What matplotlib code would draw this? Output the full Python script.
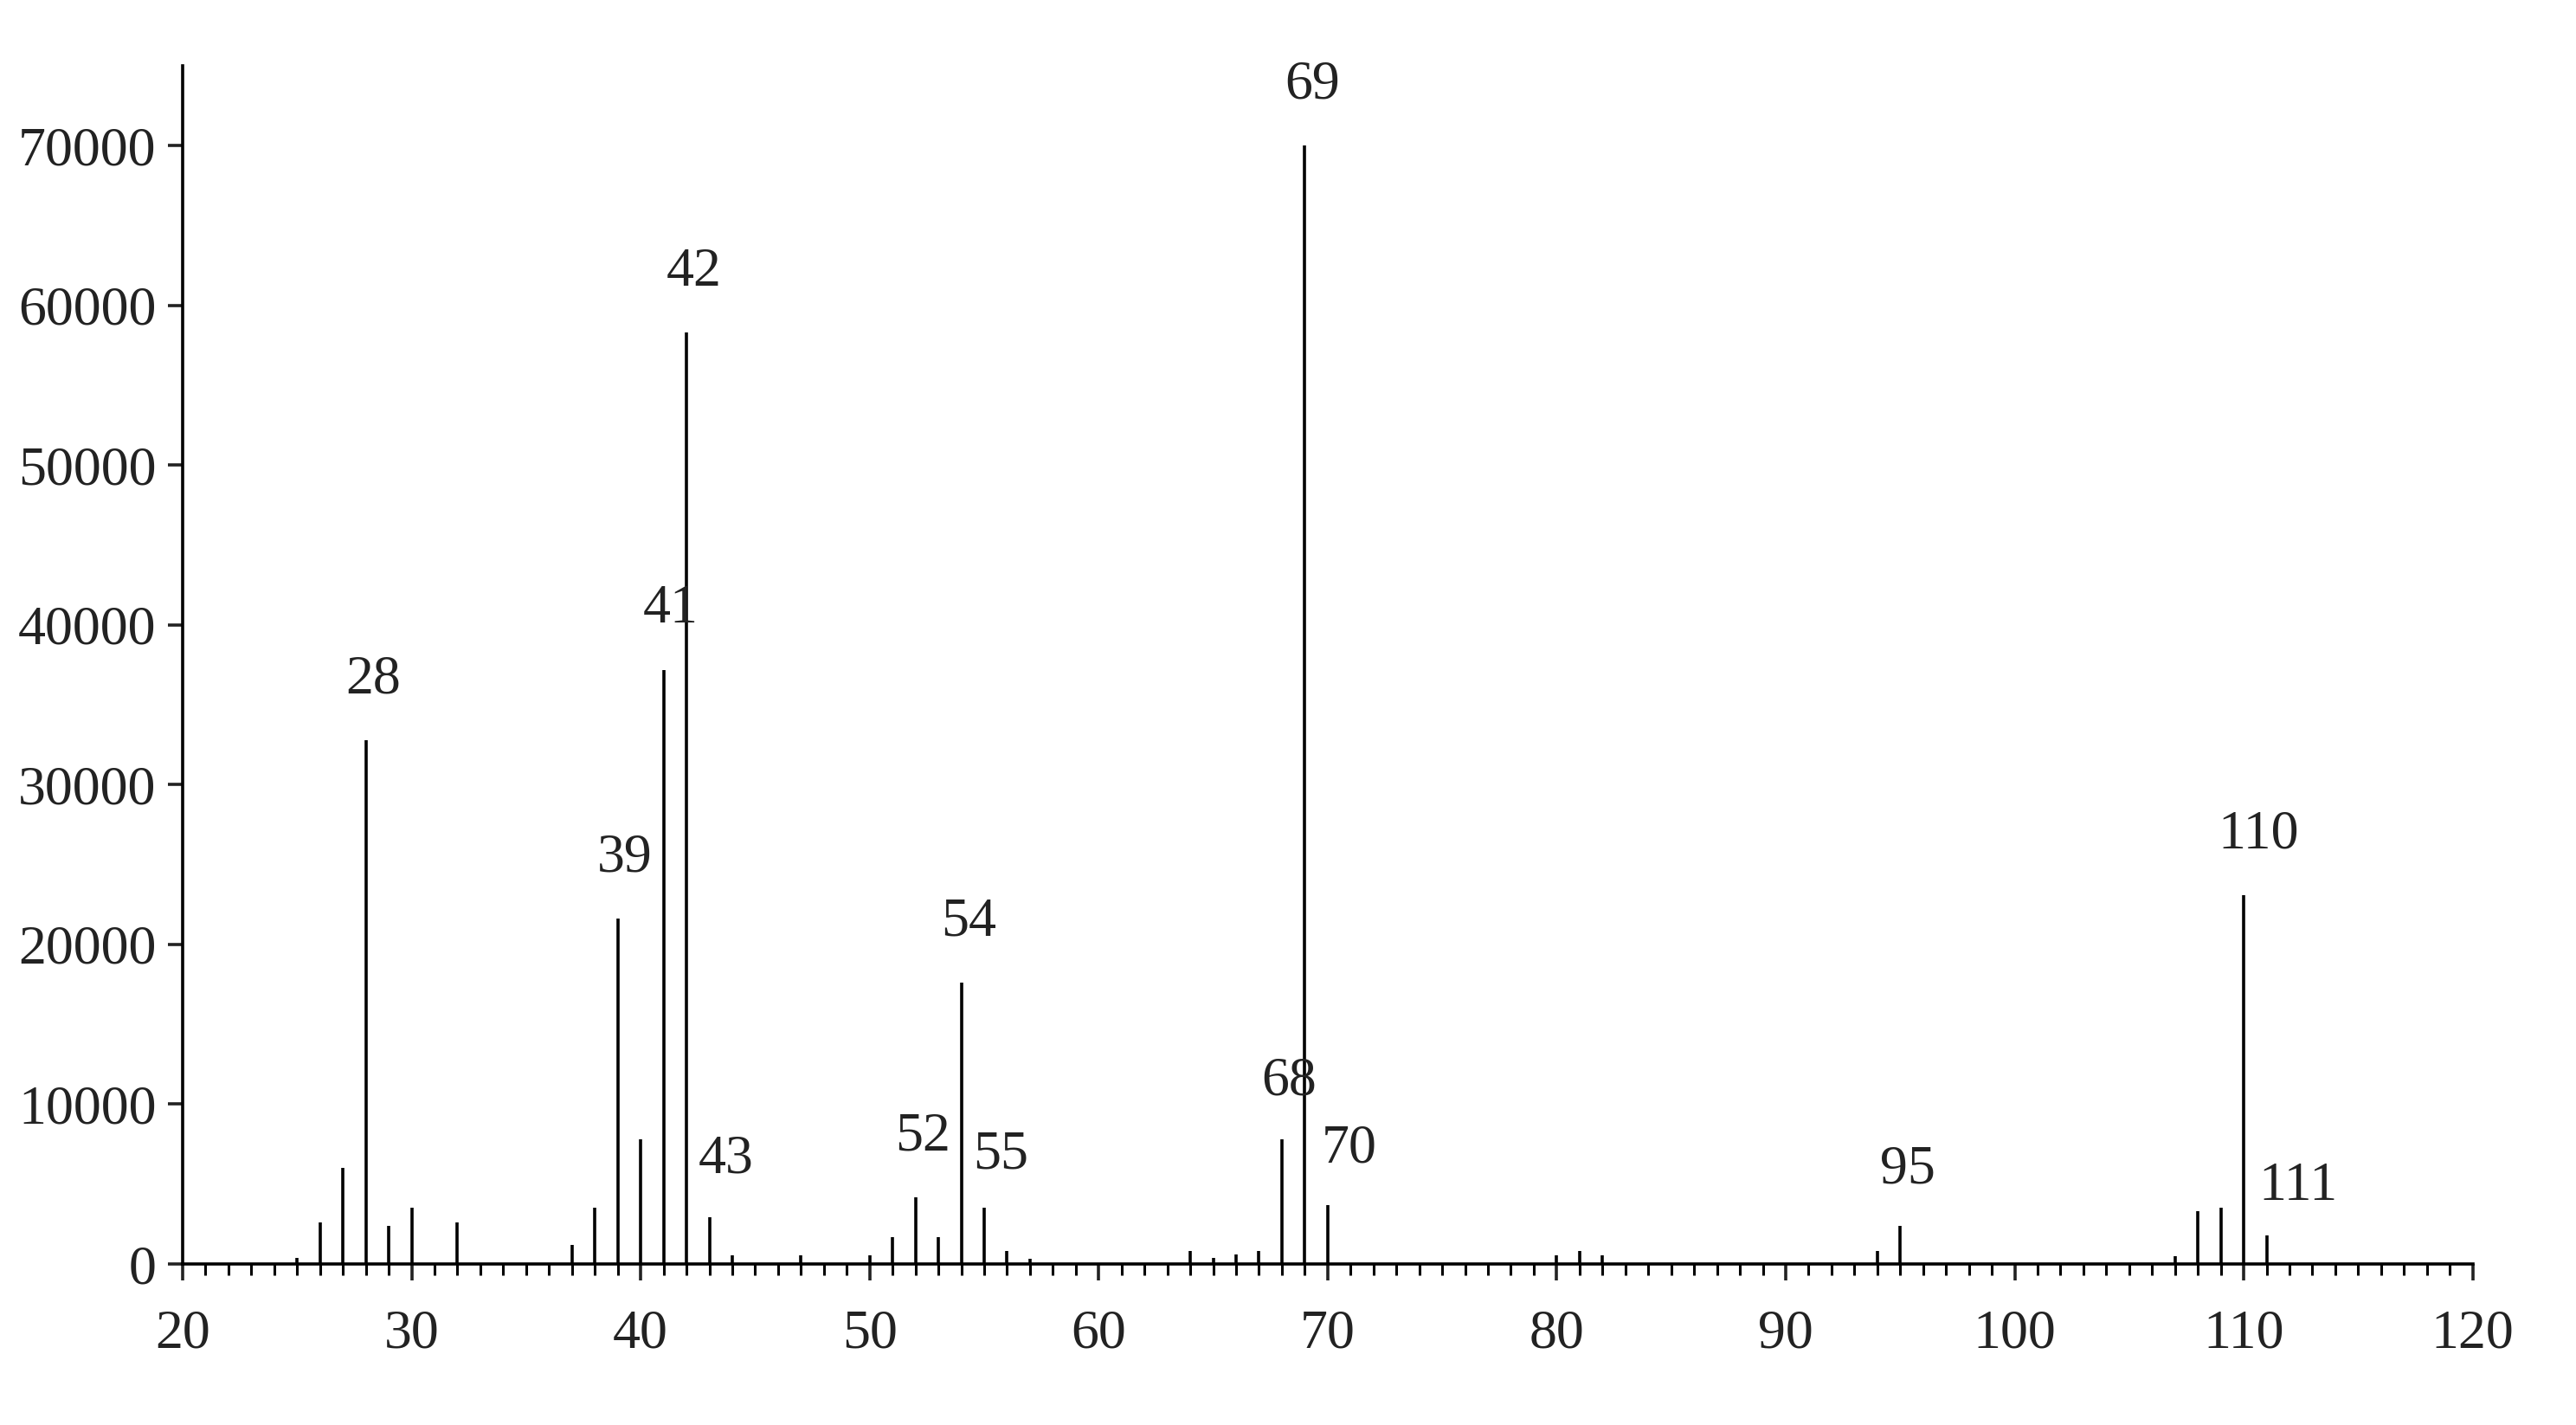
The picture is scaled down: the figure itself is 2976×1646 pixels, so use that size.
import numpy as np
import matplotlib
matplotlib.use("Agg")
import matplotlib.pyplot as plt
from matplotlib.ticker import MultipleLocator

plt.rcParams['font.family'] = ['Liberation Serif', 'DejaVu Serif']

# Spectre de masse : m/z et intensités
mz = [25, 26, 27, 28, 29, 30, 32, 37, 38, 39, 40, 41, 42, 43, 44, 47,
      50, 51, 52, 53, 54, 55, 56, 57, 64, 65, 66, 67, 68, 69, 70,
      80, 81, 82, 94, 95, 107, 108, 109, 110, 111]
intensity = [400, 2600, 6000, 32800, 2400, 3500, 2600, 1200, 3500, 21600, 7800,
             37200, 58300, 2900, 550, 550,
             550, 1700, 4200, 1700, 17600, 3500, 800, 350, 800, 400, 600, 800,
             7800, 70000, 3700,
             550, 800, 550, 800, 2400, 500, 3300, 3500, 23100, 1800]

# pics annotés
labelled = [28, 39, 41, 42, 43, 52, 54, 55, 68, 69, 70, 95, 110, 111]

# décalage des étiquettes (points)
label_dx = {28: 3, 39: 3, 41: 3, 42: 3, 43: 7, 52: 3, 54: 3, 55: 7,
            68: 3, 69: 3, 70: 9, 95: 3, 110: 6, 111: 13}
label_dy = {28: 25, 39: 25, 41: 25, 42: 25, 43: 24, 52: 25, 54: 25, 55: 22,
            68: 24, 69: 25, 70: 23, 95: 23, 110: 25, 111: 20}

fig = plt.figure(figsize=(14.88, 8.23), dpi=200)
ax = fig.add_axes([0.0709, 0.113, 0.889, 0.8408])

ax.vlines(mz, 0, intensity, color='black', linewidth=1.3)

peaks = dict(zip(mz, intensity))
for m in labelled:
    ax.annotate(str(m), xy=(m, peaks[m]), xytext=(label_dx[m], label_dy[m]),
                textcoords='offset points', ha='center', va='center',
                fontsize=23, color='#222222')

ax.set_xlim(20, 120)
ax.set_ylim(0, 75000)
ax.xaxis.set_major_locator(MultipleLocator(10))
ax.xaxis.set_minor_locator(MultipleLocator(1))
ax.yaxis.set_major_locator(MultipleLocator(10000))

for s in ['top', 'right']:
    ax.spines[s].set_visible(False)
for s in ['left', 'bottom']:
    ax.spines[s].set_linewidth(1.3)

ax.tick_params(axis='x', which='major', length=7, width=1.3, pad=12, labelsize=23)
ax.tick_params(axis='x', which='minor', length=4.5, width=1.1)
ax.tick_params(axis='y', which='major', length=6, width=1.3, pad=5, labelsize=23)
ax.tick_params(colors='#222222')

fig.savefig('out.png', dpi=200)
